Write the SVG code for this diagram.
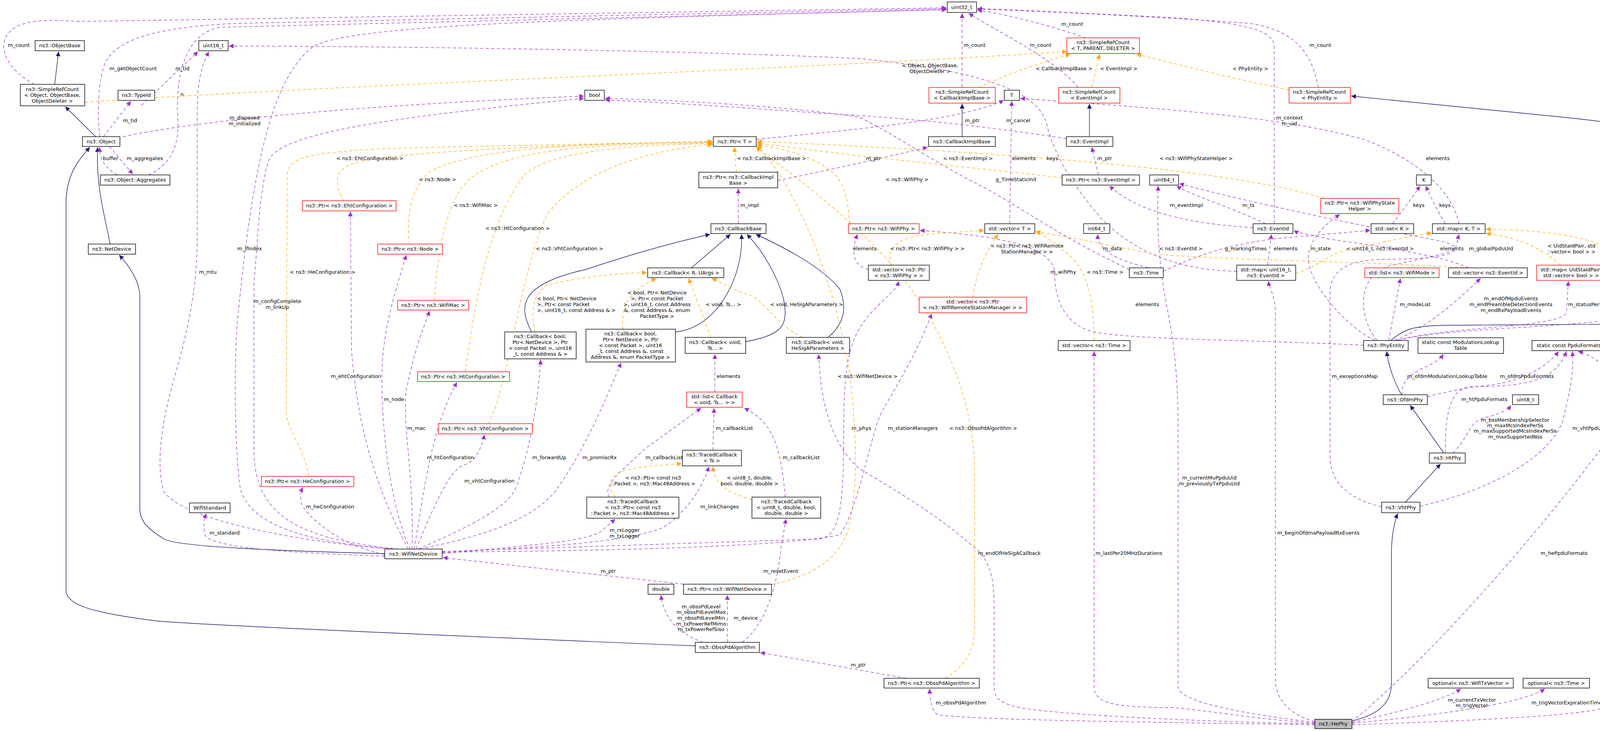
<svg xmlns="http://www.w3.org/2000/svg" width="4365" height="1872" viewBox="0 0 4365 1872">
<style>
text{font-family:"DejaVu Sans","Liberation Sans",sans-serif;font-size:13px;fill:#000}
.n rect{fill:#fff;stroke:#000;stroke-width:1.4}
.r rect{fill:#fff;stroke:#f00;stroke-width:1.4}
.g rect{fill:#bfbfbf;stroke:#000;stroke-width:1.4}
.n text,.r text,.g text{text-anchor:middle}
.lb text{text-anchor:middle}
.b{fill:none;stroke:#191970;stroke-width:1.4;marker-end:url(#mb)}
.p{fill:none;stroke:#9a32cd;stroke-width:1.3;stroke-dasharray:8,6;marker-end:url(#mp)}
.o{fill:none;stroke:#ffa500;stroke-width:1.3;stroke-dasharray:8,6;marker-end:url(#mo)}
</style>
<defs>
<marker id="mb" viewBox="0 0 10 10" refX="10" refY="5" markerWidth="12" markerHeight="12" markerUnits="userSpaceOnUse" orient="auto"><path d="M0,0 L10,5 L0,10 z" fill="#191970"/></marker>
<marker id="mp" viewBox="0 0 10 10" refX="10" refY="5" markerWidth="12" markerHeight="12" markerUnits="userSpaceOnUse" orient="auto"><path d="M0,0 L10,5 L0,10 z" fill="#9a32cd"/></marker>
<marker id="mo" viewBox="0 0 10 10" refX="10" refY="5" markerWidth="12" markerHeight="12" markerUnits="userSpaceOnUse" orient="auto"><path d="M0,0 L10,5 L0,10 z" fill="#ffa500"/></marker>
</defs>
<rect width="4365" height="1872" fill="#fff"/>
<g id="connectors">
<path class="b" d="M140,216 L150,132"/>
<path class="b" d="M245,350 L167,273"/>
<path class="b" d="M282,625 C270,560 245,480 250,377"/>
<path class="b" d="M985,1418 C700,1410 450,1400 420,1380 C370,1350 358,1330 358,1300 L358,760 C358,720 330,680 305,653"/>
<path class="b" d="M1780,1654 C1200,1630 500,1600 400,1590 C240,1570 169,1550 169,1511 L169,520 C169,450 200,410 230,377"/>
<path class="b" d="M2463,350 L2463,266"/>
<path class="b" d="M2789,350 L2789,266"/>
<path class="b" d="M1770,686 L1870,600"/>
<path class="b" d="M1361,850 C1330,790 1320,730 1500,690 C1650,640 1750,615 1818,600"/>
<path class="b" d="M1729,850 C1840,840 1905,700 1898,600"/>
<path class="b" d="M1909,875 C1990,860 2010,840 2010,800 C2010,740 1960,650 1912,600"/>
<path class="b" d="M2120,864 C2160,830 2170,790 2150,740 C2100,680 2000,630 1935,600"/>
<path class="b" d="M3598,1286 L3688,1188"/>
<path class="b" d="M3696,1160 L3610,1038"/>
<path class="b" d="M3588,1011 C3570,980 3555,940 3550,900"/>
<path class="b" d="M3560,872 C3600,840 3620,835 3700,833 L4320,829 C4350,826 4358,810 4358,780 L4358,420 C4358,370 4300,330 4000,300 C3800,280 3600,260 3459,246"/>
<path class="b" d="M3462,1846 C3530,1830 3562,1800 3562,1750 L3562,1420 C3562,1380 3568,1340 3578,1315"/>

<path class="p" d="M88,216 C40,190 5,150 10,110 C20,60 80,45 200,55 L2423,20"/>
<path class="p" d="M255,350 C250,300 250,200 270,160 C300,100 400,70 600,60 L2423,22"/>
<path class="p" d="M362,270 L507,132"/>
<path class="p" d="M265,350 L335,259"/>
<path class="p" d="M380,448 C440,420 460,370 455,300 C450,200 470,90 560,70 L2423,25"/>
<path class="p" d="M280,375 L340,446"/>
<path class="p" d="M300,448 C270,430 255,410 255,377"/>
<path class="p" d="M315,350 C500,310 900,270 1495,246"/>
<path class="p" d="M1000,1406 C800,1390 480,1340 420,1260 C400,1200 410,1100 440,990 C480,850 505,750 505,600 L505,280 C505,200 520,160 535,132"/>
<path class="p" d="M1010,1406 C800,1390 640,1350 615,1250 C600,1150 598,900 610,800 C650,400 700,200 800,120 C900,60 1500,50 2423,24"/>
<path class="p" d="M1020,1406 C760,1380 650,1320 650,1150 L650,720 C660,640 660,500 688,410 C720,340 1000,300 1495,252"/>
<path class="p" d="M1045,1406 C990,1300 920,1150 900,900 L897,542"/>
<path class="p" d="M1050,1406 C1000,1300 975,1100 978,950 C980,850 1010,750 1040,653"/>
<path class="p" d="M1055,1406 C1060,1200 1030,1100 1040,1000 C1060,900 1080,850 1100,796"/>
<path class="p" d="M1060,1406 C1080,1300 1100,1100 1170,979"/>
<path class="p" d="M1065,1406 C1110,1300 1150,1200 1190,1190 C1220,1180 1235,1140 1240,1113"/>
<path class="p" d="M985,1420 C880,1400 790,1330 772,1290 C768,1270 770,1260 775,1248"/>
<path class="p" d="M985,1424 C700,1415 540,1400 525,1370 C520,1350 522,1330 528,1315"/>
<path class="p" d="M1070,1406 C1200,1350 1300,1300 1320,1250 C1360,1150 1380,1000 1384,921"/>
<path class="p" d="M1075,1406 C1250,1370 1360,1330 1420,1260 C1500,1150 1560,1000 1590,929"/>
<path class="p" d="M1132,1418 C1300,1400 1500,1390 1540,1360 L1575,1329"/>
<path class="p" d="M1132,1415 C1400,1400 1600,1390 1700,1350 C1770,1300 1800,1240 1815,1195"/>
<path class="p" d="M1132,1412 C1500,1400 1800,1390 2100,1380 C2150,1370 2160,1300 2160,1100 C2160,900 2180,850 2250,780 C2280,750 2295,740 2301,720"/>
<path class="p" d="M1132,1414 C1600,1410 2000,1400 2150,1370 C2200,1300 2230,1100 2260,1050 C2300,980 2350,900 2385,803"/>
<path class="p" d="M1750,1496 L1134,1428"/>
<path class="p" d="M1800,1645 C1730,1620 1700,1580 1692,1524"/>
<path class="p" d="M1862,1645 L1862,1524"/>
<path class="p" d="M1900,1645 C1960,1600 1990,1500 2000,1400 L2012,1329"/>
<path class="p" d="M2320,1737 L1946,1671"/>
<path class="p" d="M3366,1856 C3000,1850 2500,1845 2400,1830 C2385,1820 2380,1790 2380,1764"/>
<path class="p" d="M3366,1854 C3000,1845 2700,1830 2600,1810 C2545,1795 2545,1780 2545,1750 L2545,1550 C2545,1450 2520,1420 2480,1390 C2400,1320 2300,1260 2200,1200 C2140,1150 2100,1050 2096,907"/>
<path class="p" d="M3366,1852 C3200,1840 3100,1820 3000,1812 C2850,1812 2801,1800 2801,1760 L2801,900"/>
<path class="p" d="M3366,1850 C3200,1830 3020,1800 3016,1760 L3016,1100 C3016,1000 3010,900 2990,800 C2970,700 2960,600 2965,476"/>
<path class="p" d="M3366,1848 C3300,1830 3265,1790 3265,1740 L3265,800 C3265,760 3250,740 3247,720"/>
<path class="p" d="M3461,1850 C3600,1820 3700,1790 3740,1764"/>
<path class="p" d="M3461,1852 C3700,1830 3900,1800 3955,1764"/>
<path class="p" d="M3461,1856 C3800,1845 4080,1830 4110,1810 C4140,1790 4150,1775 4158,1764"/>
<path class="p" d="M3461,1848 C3700,1650 3990,1300 4135,1100 C4160,1040 4150,980 4110,940 C4080,915 4060,905 4040,900"/>
<path class="p" d="M3635,1296 C3800,1260 3960,1180 4000,1080 C4020,1000 4030,950 4025,900"/>
<path class="p" d="M3700,1160 C3700,1100 3700,1000 3760,990 C3900,990 3980,980 4010,900"/>
<path class="p" d="M3720,1160 C3760,1120 3760,1080 3800,1070 C3840,1060 3860,1050 3868,1038"/>
<path class="p" d="M3654,1016 C3750,990 3800,990 3850,980 C3900,970 3960,940 3990,900"/>
<path class="p" d="M3590,1011 C3585,990 3600,960 3650,940 C3680,925 3690,915 3695,907"/>
<path class="p" d="M3537,1298 C3460,1280 3405,1240 3405,1170 L3405,750 C3405,700 3440,670 3520,665 C3600,662 3700,665 3725,640 L3735,600"/>
<path class="p" d="M3525,872 C3470,800 3480,700 3560,680 C3700,650 3760,640 3700,620 C3500,580 3200,520 3019,470"/>
<path class="p" d="M3555,872 L3585,713"/>
<path class="p" d="M3570,872 C3650,840 3720,780 3790,713"/>
<path class="p" d="M3575,872 C3700,835 4000,840 4010,800 L4015,720"/>
<path class="p" d="M3580,872 C3700,835 4150,840 4180,800 L4210,720"/>
<path class="p" d="M3520,872 C3450,840 3340,720 3350,650 C3360,600 3400,570 3430,549"/>
<path class="p" d="M3491,884 C3200,870 2900,870 2800,850 C2720,830 2700,760 2700,700 C2700,620 2500,600 2355,590"/>
<path class="p" d="M3208,583 C3000,570 2900,530 2840,476"/>
<path class="p" d="M3240,573 C3150,530 3050,500 3012,476"/>
<path class="p" d="M3262,573 L3262,120 C3262,80 3200,60 3000,45 C2800,35 2600,25 2502,22"/>
<path class="p" d="M2940,686 C2880,670 2810,650 2810,600"/>
<path class="p" d="M2891,690 C2700,600 2600,520 2500,470 C2400,420 2300,350 2200,300 C2000,270 1700,255 1549,252"/>
<path class="p" d="M2978,695 C3050,660 3150,620 3300,608 C3400,600 3480,592 3508,590"/>
<path class="p" d="M3735,573 C3720,500 3650,420 3500,360 C3300,300 3000,280 2612,252"/>
<path class="p" d="M3700,573 C3680,540 3660,500 3650,476"/>
<path class="p" d="M3565,573 C3590,540 3620,500 3635,476"/>
<path class="p" d="M2812,448 L2795,377"/>
<path class="p" d="M2463,224 L2463,34"/>
<path class="p" d="M2760,224 C2700,150 2550,80 2480,34"/>
<path class="p" d="M2780,97 C2700,70 2600,40 2502,26"/>
<path class="p" d="M3375,224 C3360,150 3330,80 3200,60 C3000,45 2700,30 2502,23"/>
<path class="p" d="M1991,462 C2150,430 2300,395 2375,377"/>
<path class="p" d="M1890,573 L1890,483"/>
<path class="p" d="M1936,357 C2200,330 2450,310 2570,257"/>
<path class="p" d="M2730,355 C2500,320 2300,300 2100,290 C1900,275 1700,262 1549,256"/>
<path class="p" d="M2585,573 L2590,259"/>
<path class="p" d="M1830,1004 L1830,907"/>
<path class="p" d="M1825,1153 L1828,1045"/>
<path class="p" d="M1560,1273 C1540,1240 1600,1200 1650,1150 C1720,1100 1760,1070 1795,1045"/>
<path class="p" d="M2010,1273 C2000,1150 1980,1080 1905,1045"/>
<path class="p" d="M2223,690 C2180,680 2180,640 2195,600"/>
<path class="p" d="M3245,679 L3255,600"/>
<path class="p" d="M3760,686 C3700,660 3600,640 3400,612 C3350,600 3320,595 3312,590"/>
<path class="p" d="M3166,695 C3000,690 2900,640 2820,560 C2750,480 2700,400 2680,320 C2660,230 2500,180 2200,150 C1800,130 1000,118 586,118"/>

<path class="o" d="M217,262 C800,220 2000,180 2731,132"/>
<path class="o" d="M2505,224 C2600,180 2700,150 2740,139"/>
<path class="o" d="M2795,224 L2815,139"/>
<path class="o" d="M3300,230 C3100,190 3000,160 2910,139"/>
<path class="o" d="M880,514 C860,480 850,440 900,420 C1000,385 1500,370 1824,362"/>
<path class="o" d="M1048,625 C1040,560 1050,480 1100,440 C1200,380 1500,365 1824,364"/>
<path class="o" d="M1112,769 C1120,650 1140,520 1200,460 C1300,380 1500,370 1824,366"/>
<path class="o" d="M1190,952 C1210,850 1230,600 1340,450 C1400,390 1600,370 1824,368"/>
<path class="o" d="M1250,1085 C1300,1000 1330,700 1400,550 C1500,420 1700,380 1824,370"/>
<path class="o" d="M790,1220 C780,1150 735,1100 733,1060 L735,450 C735,400 800,390 1000,380 C1400,370 1700,365 1824,364"/>
<path class="o" d="M1885,441 L1880,377"/>
<path class="o" d="M2175,573 C2170,500 2160,450 2100,420 C2050,390 1990,380 1938,370"/>
<path class="o" d="M2719,455 C2400,420 2100,390 1938,366"/>
<path class="o" d="M3390,508 C3200,450 2800,400 1938,362"/>
<path class="o" d="M1975,1497 C2100,1470 2150,1420 2170,1360 C2200,1250 2190,1100 2180,1000 C2160,800 2060,500 1938,372"/>
<path class="o" d="M2420,1737 C2480,1700 2495,1660 2495,1600 L2495,1200 C2490,1050 2450,950 2400,850 C2300,650 2100,500 1935,377"/>
<path class="o" d="M1370,850 C1360,800 1360,760 1400,730 C1500,705 1600,700 1656,698"/>
<path class="o" d="M1595,843 C1590,790 1600,750 1680,713"/>
<path class="o" d="M1820,864 L1763,713"/>
<path class="o" d="M2055,864 C2000,840 1960,780 1930,760 C1870,740 1840,720 1822,713"/>
<path class="o" d="M1575,1273 C1550,1240 1560,1210 1620,1200 C1680,1190 1720,1190 1745,1187"/>
<path class="o" d="M1925,1280 C1860,1260 1830,1240 1825,1195"/>
<path class="o" d="M2280,679 C2270,630 2300,605 2400,598 L2519,590"/>
<path class="o" d="M2490,761 C2500,700 2520,650 2555,600"/>
<path class="o" d="M2801,872 C2800,750 2780,680 2720,640 C2690,615 2670,600 2651,592"/>
<path class="o" d="M3760,686 C3500,670 3100,665 2950,650 C2800,620 2700,600 2651,594"/>
<path class="o" d="M3317,700 C3380,680 3400,650 3450,640 C3550,620 3620,600 3665,597"/>
<path class="o" d="M3995,679 C3950,640 3900,610 3804,598"/>
<path class="o" d="M4190,679 C4100,600 3950,590 3804,587"/>

<g class="lb">
<text x="48" y="120">m_count</text>
<text x="341" y="180">m_getObjectCount</text>
<text x="467" y="180">m_tid</text>
<text x="466" y="246">n</text>
<text x="333" y="313">m_tid</text>
<text x="626" y="306">m_disposed</text><text x="626" y="321">m_initialized</text>
<text x="283" y="410">buffer</text>
<text x="371" y="410">m_aggregates</text>
<text x="947" y="410">&lt; ns3::EhtConfiguration &gt;</text>
<text x="639" y="641">m_ifIndex</text>
<text x="532" y="701">m_mtu</text>
<text x="826" y="701">&lt; ns3::HeConfiguration &gt;</text>
<text x="710" y="776">m_configComplete</text><text x="710" y="791">m_linkUp</text>
<text x="1120" y="464">&lt; ns3::Node &gt;</text>
<text x="1218" y="530">&lt; ns3::WifiMac &gt;</text>
<text x="1325" y="589">&lt; ns3::HtConfiguration &gt;</text>
<text x="1458" y="641">&lt; ns3::VhtConfiguration &gt;</text>
<text x="1975" y="410">&lt; ns3::CallbackImplBase &gt;</text>
<text x="1919" y="530">m_impl</text>
<text x="1375" y="769" style="text-anchor:start">&lt; bool, Ptr&lt; NetDevice</text>
<text x="1375" y="784" style="text-anchor:start">&gt;, Ptr&lt; const Packet</text>
<text x="1375" y="799" style="text-anchor:start">&gt;, uint16_t, const Address &amp; &gt;</text>
<text x="1682" y="754">&lt; bool, Ptr&lt; NetDevice</text>
<text x="1682" y="769">&gt;, Ptr&lt; const Packet</text>
<text x="1682" y="784">&gt;, uint16_t, const Address</text>
<text x="1682" y="799">&amp;, const Address &amp;, enum</text>
<text x="1682" y="814">PacketType &gt;</text>
<text x="1852" y="784">&lt; void, Ts... &gt;</text>
<text x="2065" y="784">&lt; void, HeSigAParameters &gt;</text>
<text x="2495" y="120">m_count</text>
<text x="2664" y="120">m_count</text>
<text x="2745" y="66">m_count</text>
<text x="2381" y="172">&lt; Object, ObjectBase,</text><text x="2381" y="187">ObjectDeleter &gt;</text>
<text x="2724" y="180">&lt; CallbackImplBase &gt;</text>
<text x="2864" y="180">&lt; EventImpl &gt;</text>
<text x="3201" y="180">&lt; PhyEntity &gt;</text>
<text x="2489" y="313">m_ptr</text>
<text x="2607" y="313">m_cancel</text>
<text x="2236" y="410">m_ptr</text>
<text x="2478" y="410">&lt; ns3::EventImpl &gt;</text>
<text x="2621" y="410">elements</text>
<text x="2694" y="410">keys</text>
<text x="2828" y="410">m_ptr</text>
<text x="3062" y="410">&lt; ns3::WifiPhyStateHelper &gt;</text>
<text x="2322" y="464">&lt; ns3::WifiPhy &gt;</text>
<text x="2601" y="464">g_TimeStaticInit</text>
<text x="3037" y="530">m_eventImpl</text>
<text x="3196" y="530">m_ts</text>
<text x="2214" y="641">elements</text>
<text x="2374" y="641">&lt; ns3::Ptr&lt; ns3::WifiPhy &gt; &gt;</text>
<text x="2629" y="634">&lt; ns3::Ptr&lt; ns3::WifiRemote</text><text x="2629" y="649">StationManager &gt; &gt;</text>
<text x="2848" y="641">m_data</text>
<text x="3023" y="641">&lt; ns3::EventId &gt;</text>
<text x="3189" y="641">g_markingTimes</text>
<text x="2722" y="701">m_wifiPhy</text>
<text x="2829" y="701">&lt; ns3::Time &gt;</text>
<text x="2937" y="784">elements</text>
<text x="3380" y="120">m_count</text>
<text x="3301" y="306">m_context</text><text x="3301" y="321">m_uid</text>
<text x="3681" y="410">elements</text>
<text x="3632" y="530">keys</text>
<text x="3699" y="530">keys</text>
<text x="3291" y="641">elements</text>
<text x="3381" y="641">m_state</text>
<text x="3533" y="641">&lt; uint16_t, ns3::EventId &gt;</text>
<text x="3717" y="641">elements</text>
<text x="3817" y="641">m_globalPpduUid</text>
<text x="4023" y="634">&lt; UidStaIdPair, std</text><text x="4023" y="649">::vector&lt; bool &gt; &gt;</text>
<text x="4222" y="634">&lt; UidStaIdPair, ns3</text><text x="4222" y="649">::SignalNoiseDbm &gt;</text>
<text x="3623" y="784">m_modeList</text>
<text x="3868" y="769">m_endOfMpduEvents</text><text x="3868" y="784">m_endPreambleDetectionEvents</text><text x="3868" y="799">m_endRxPayloadEvents</text>
<text x="4086" y="784">m_statusPerMpduMap</text>
<text x="4270" y="784">m_signalNoiseMap</text>
<text x="911" y="968">m_ehtConfiguration</text>
<text x="1009" y="1027">m_node</text>
<text x="1066" y="1101">m_mac</text>
<text x="845" y="1302">m_heConfiguration</text>
<text x="575" y="1369">m_standard</text>
<text x="1865" y="968">elements</text>
<text x="1880" y="1101">m_callbackList</text>
<text x="1153" y="1176">m_htConfiguration</text>
<text x="1406" y="1176">m_forwardUp</text>
<text x="1535" y="1176">m_promiscRx</text>
<text x="1700" y="1176">m_callbackList</text>
<text x="2051" y="1176">m_callbackList</text>
<text x="1253" y="1236">m_vhtConfiguration</text>
<text x="1672" y="1228">&lt; ns3::Ptr&lt; const ns3</text><text x="1672" y="1243">::Packet &gt;, ns3::Mac48Address &gt;</text>
<text x="1919" y="1228">&lt; uint8_t, double,</text><text x="1919" y="1243">bool, double, double &gt;</text>
<text x="1842" y="1302">m_linkChanges</text>
<text x="1599" y="1362">m_rxLogger</text><text x="1599" y="1377">m_txLogger</text>
<text x="1557" y="1467">m_ptr</text>
<text x="1999" y="1467">m_resetEvent</text>
<text x="1795" y="1558">m_obssPdLevel</text><text x="1795" y="1572">m_obssPdLevelMax</text><text x="1795" y="1587">m_obssPdLevelMin</text><text x="1795" y="1602">m_txPowerRefMimo</text><text x="1795" y="1616">m_txPowerRefSiso</text>
<text x="1909" y="1587">m_device</text>
<text x="2221" y="968">&lt; ns3::WifiNetDevice &gt;</text>
<text x="2205" y="1101">m_phys</text>
<text x="2337" y="1101">m_stationManagers</text>
<text x="2517" y="1101">&lt; ns3::ObssPdAlgorithm &gt;</text>
<text x="2584" y="1421">m_endOfHeSigACallback</text>
<text x="2890" y="1421">m_lastPer20MHzDurations</text>
<text x="3096" y="1228">m_currentMuPpduUid</text><text x="3096" y="1243">m_previouslyTxPpduUid</text>
<text x="2197" y="1707">m_ptr</text>
<text x="2460" y="1804">m_obssPdAlgorithm</text>
<text x="3468" y="968">m_exceptionsMap</text>
<text x="3705" y="968">m_ofdmModulationLookupTable</text>
<text x="3909" y="968">m_ofdmPpduFormats</text>
<text x="3800" y="1027">m_htPpduFormats</text>
<text x="3879" y="1080">m_bssMembershipSelector</text><text x="3879" y="1094">m_maxMcsIndexPerSs</text><text x="3879" y="1108">m_maxSupportedMcsIndexPerSs</text><text x="3879" y="1123">m_maxSupportedNss</text>
<text x="4088" y="1101">m_vhtPpduFormats</text>
<text x="3375" y="1369">m_beginOfdmaPayloadRxEvents</text>
<text x="4004" y="1421">m_hePpduFormats</text>
<text x="3768" y="1797">m_currentTxVector</text><text x="3768" y="1811">m_trigVector</text>
<text x="4011" y="1804">m_trigVectorExpirationTime</text>
<text x="4200" y="1804">m_rxHeTbPpdus</text>
</g>
</g>

<g id="n1" class="n"><rect x="2425" y="5" width="75" height="27"/><text x="2462" y="23">uint32_t</text></g>
<g id="n2" class="n"><rect x="509" y="104" width="75" height="26"/><text x="546" y="121">uint16_t</text></g>
<g id="n3" class="n"><rect x="90" y="104" width="126" height="26"/><text x="153" y="121">ns3::ObjectBase</text></g>
<g id="n4" class="n"><rect x="52" y="216" width="165" height="55"/><text x="134" y="233">ns3::SimpleRefCount</text><text x="134" y="248">&lt; Object, ObjectBase,</text><text x="134" y="263">ObjectDeleter &gt;</text></g>
<g id="n5" class="n"><rect x="302" y="231" width="94" height="26"/><text x="349" y="248">ns3::TypeId</text></g>
<g id="n6" class="n"><rect x="211" y="350" width="96" height="25"/><text x="259" y="367">ns3::Object</text></g>
<g id="n7" class="n"><rect x="257" y="448" width="178" height="26"/><text x="346" y="465">ns3::Object::Aggregates</text></g>
<g id="n8" class="n"><rect x="226" y="625" width="121" height="26"/><text x="286" y="642">ns3::NetDevice</text></g>
<g id="n9" class="n"><rect x="1497" y="231" width="50" height="26"/><text x="1522" y="248">bool</text></g>
<g id="n10" class="r"><rect x="774" y="514" width="240" height="26"/><text x="894" y="531">ns3::Ptr&lt; ns3::EhtConfiguration &gt;</text></g>
<g id="n11" class="r"><rect x="967" y="625" width="166" height="26"/><text x="1050" y="642">ns3::Ptr&lt; ns3::Node &gt;</text></g>
<g id="n12" class="r"><rect x="1018" y="769" width="182" height="25"/><text x="1109" y="786">ns3::Ptr&lt; ns3::WifiMac &gt;</text></g>
<g id="n13" class="r"><rect x="1069" y="952" width="235" height="25"/><text x="1186" y="969">ns3::Ptr&lt; ns3::HtConfiguration &gt;</text></g>
<g id="n14" class="r"><rect x="1122" y="1085" width="241" height="26"/><text x="1242" y="1102">ns3::Ptr&lt; ns3::VhtConfiguration &gt;</text></g>
<g id="n15" class="r"><rect x="669" y="1220" width="237" height="26"/><text x="787" y="1237">ns3::Ptr&lt; ns3::HeConfiguration &gt;</text></g>
<g id="n16" class="n"><rect x="485" y="1288" width="104" height="25"/><text x="537" y="1305">WifiStandard</text></g>
<g id="n17" class="n"><rect x="985" y="1406" width="147" height="25"/><text x="1058" y="1423">ns3::WifiNetDevice</text></g>
<g id="n18" class="n"><rect x="1826" y="350" width="110" height="25"/><text x="1881" y="367">ns3::Ptr&lt; T &gt;</text></g>
<g id="n19" class="n"><rect x="1789" y="441" width="202" height="40"/><text x="1890" y="458">ns3::Ptr&lt; ns3::CallbackImpl</text><text x="1890" y="473">Base &gt;</text></g>
<g id="n20" class="n"><rect x="1820" y="573" width="141" height="25"/><text x="1890" y="590">ns3::CallbackBase</text></g>
<g id="n21" class="n"><rect x="1658" y="686" width="195" height="25"/><text x="1755" y="703">ns3::Callback&lt; R, UArgs &gt;</text></g>
<g id="n22" class="n"><rect x="1292" y="850" width="183" height="69"/><text x="1383" y="866">ns3::Callback&lt; bool,</text><text x="1383" y="881">Ptr&lt; NetDevice &gt;, Ptr</text><text x="1383" y="896">&lt; const Packet &gt;, uint16</text><text x="1383" y="911">_t, const Address &amp; &gt;</text></g>
<g id="n23" class="n"><rect x="1500" y="843" width="229" height="84"/><text x="1614" y="859">ns3::Callback&lt; bool,</text><text x="1614" y="874">Ptr&lt; NetDevice &gt;, Ptr</text><text x="1614" y="889">&lt; const Packet &gt;, uint16</text><text x="1614" y="904">_t, const Address &amp;, const</text><text x="1614" y="919">Address &amp;, enum PacketType &gt;</text></g>
<g id="n24" class="n"><rect x="1754" y="864" width="155" height="41"/><text x="1831" y="881">ns3::Callback&lt; void,</text><text x="1831" y="896">Ts... &gt;</text></g>
<g id="n25" class="n"><rect x="2013" y="864" width="162" height="41"/><text x="2094" y="881">ns3::Callback&lt; void,</text><text x="2094" y="896">HeSigAParameters &gt;</text></g>
<g id="n26" class="r"><rect x="1758" y="1004" width="142" height="39"/><text x="1829" y="1020">std::list&lt; Callback</text><text x="1829" y="1035">&lt; void, Ts... &gt; &gt;</text></g>
<g id="n27" class="n"><rect x="1747" y="1153" width="151" height="40"/><text x="1822" y="1169">ns3::TracedCallback</text><text x="1822" y="1184">&lt; Ts &gt;</text></g>
<g id="n28" class="n"><rect x="1502" y="1273" width="236" height="54"/><text x="1620" y="1289">ns3::TracedCallback</text><text x="1620" y="1304">&lt; ns3::Ptr&lt; const ns3</text><text x="1620" y="1319">::Packet &gt;, ns3::Mac48Address &gt;</text></g>
<g id="n29" class="n"><rect x="1925" y="1273" width="176" height="54"/><text x="2013" y="1289">ns3::TracedCallback</text><text x="2013" y="1304">&lt; uint8_t, double, bool,</text><text x="2013" y="1319">double, double &gt;</text></g>
<g id="n30" class="n"><rect x="1659" y="1496" width="66" height="26"/><text x="1692" y="1513">double</text></g>
<g id="n31" class="n"><rect x="1750" y="1496" width="225" height="26"/><text x="1862" y="1513">ns3::Ptr&lt; ns3::WifiNetDevice &gt;</text></g>
<g id="n32" class="n"><rect x="1780" y="1645" width="164" height="26"/><text x="1862" y="1662">ns3::ObssPdAlgorithm</text></g>
<g id="n33" class="n"><rect x="2263" y="1737" width="244" height="25"/><text x="2385" y="1754">ns3::Ptr&lt; ns3::ObssPdAlgorithm &gt;</text></g>
<g id="n34" class="r"><rect x="2731" y="97" width="186" height="40"/><text x="2824" y="113">ns3::SimpleRefCount</text><text x="2824" y="128">&lt; T, PARENT, DELETER &gt;</text></g>
<g id="n35" class="r"><rect x="2378" y="224" width="170" height="40"/><text x="2463" y="240">ns3::SimpleRefCount</text><text x="2463" y="255">&lt; CallbackImplBase &gt;</text></g>
<g id="n36" class="n"><rect x="2571" y="231" width="39" height="26"/><text x="2590" y="248">T</text></g>
<g id="n37" class="r"><rect x="2710" y="224" width="157" height="40"/><text x="2788" y="240">ns3::SimpleRefCount</text><text x="2788" y="255">&lt; EventImpl &gt;</text></g>
<g id="n38" class="n"><rect x="2377" y="350" width="171" height="25"/><text x="2462" y="367">ns3::CallbackImplBase</text></g>
<g id="n39" class="n"><rect x="2730" y="350" width="119" height="25"/><text x="2789" y="367">ns3::EventImpl</text></g>
<g id="n40" class="n"><rect x="2719" y="448" width="198" height="26"/><text x="2818" y="465">ns3::Ptr&lt; ns3::EventImpl &gt;</text></g>
<g id="n41" class="n"><rect x="2943" y="448" width="74" height="26"/><text x="2980" y="465">uint64_t</text></g>
<g id="n42" class="r"><rect x="2172" y="573" width="181" height="25"/><text x="2262" y="590">ns3::Ptr&lt; ns3::WifiPhy &gt;</text></g>
<g id="n43" class="n"><rect x="2521" y="573" width="128" height="25"/><text x="2585" y="590">std::vector&lt; T &gt;</text></g>
<g id="n44" class="n"><rect x="2774" y="573" width="67" height="25"/><text x="2807" y="590">int64_t</text></g>
<g id="n45" class="n"><rect x="3208" y="573" width="102" height="25"/><text x="3259" y="590">ns3::EventId</text></g>
<g id="n46" class="n"><rect x="2223" y="679" width="156" height="39"/><text x="2301" y="695">std::vector&lt; ns3::Ptr</text><text x="2301" y="710">&lt; ns3::WifiPhy &gt; &gt;</text></g>
<g id="n47" class="r"><rect x="2353" y="761" width="275" height="40"/><text x="2490" y="777">std::vector&lt; ns3::Ptr</text><text x="2490" y="792">&lt; ns3::WifiRemoteStationManager &gt; &gt;</text></g>
<g id="n48" class="n"><rect x="2891" y="686" width="87" height="25"/><text x="2934" y="703">ns3::Time</text></g>
<g id="n49" class="n"><rect x="3166" y="679" width="151" height="39"/><text x="3241" y="695">std::map&lt; uint16_t,</text><text x="3241" y="710">ns3::EventId &gt;</text></g>
<g id="n50" class="n"><rect x="2709" y="872" width="184" height="26"/><text x="2801" y="889">std::vector&lt; ns3::Time &gt;</text></g>
<g id="n51" class="r"><rect x="3300" y="224" width="157" height="40"/><text x="3378" y="240">ns3::SimpleRefCount</text><text x="3378" y="255">&lt; PhyEntity &gt;</text></g>
<g id="n52" class="n"><rect x="3626" y="448" width="38" height="26"/><text x="3645" y="465">K</text></g>
<g id="n53" class="r"><rect x="3381" y="508" width="200" height="39"/><text x="3481" y="524">ns3::Ptr&lt; ns3::WifiPhyState</text><text x="3481" y="539">Helper &gt;</text></g>
<g id="n54" class="n"><rect x="3510" y="573" width="109" height="25"/><text x="3564" y="590">std::set&lt; K &gt;</text></g>
<g id="n55" class="n"><rect x="3667" y="573" width="135" height="25"/><text x="3734" y="590">std::map&lt; K, T &gt;</text></g>
<g id="n56" class="r"><rect x="3494" y="686" width="190" height="25"/><text x="3589" y="703">std::list&lt; ns3::WifiMode &gt;</text></g>
<g id="n57" class="n"><rect x="3708" y="686" width="202" height="25"/><text x="3809" y="703">std::vector&lt; ns3::EventId &gt;</text></g>
<g id="n58" class="r"><rect x="3934" y="679" width="177" height="39"/><text x="4022" y="695">std::map&lt; UidStaIdPair,</text><text x="4022" y="710">std::vector&lt; bool &gt; &gt;</text></g>
<g id="n59" class="r"><rect x="4135" y="679" width="180" height="39"/><text x="4225" y="695">std::map&lt; UidStaIdPair,</text><text x="4225" y="710">ns3::SignalNoiseDbm &gt;</text></g>
<g id="n60" class="n"><rect x="3491" y="872" width="114" height="26"/><text x="3548" y="889">ns3::PhyEntity</text></g>
<g id="n61" class="n"><rect x="3630" y="865" width="219" height="40"/><text x="3739" y="881">static const ModulationLookup</text><text x="3739" y="896">Table</text></g>
<g id="n62" class="n"><rect x="3922" y="872" width="188" height="26"/><text x="4016" y="889">static const PpduFormats</text></g>
<g id="n63" class="n"><rect x="3541" y="1011" width="113" height="25"/><text x="3597" y="1028">ns3::OfdmPhy</text></g>
<g id="n64" class="n"><rect x="3872" y="1011" width="67" height="25"/><text x="3905" y="1028">uint8_t</text></g>
<g id="n65" class="n"><rect x="3659" y="1160" width="92" height="26"/><text x="3705" y="1177">ns3::HtPhy</text></g>
<g id="n66" class="n"><rect x="3537" y="1286" width="98" height="27"/><text x="3586" y="1304">ns3::VhtPhy</text></g>
<g id="n67" class="n"><rect x="3656" y="1737" width="218" height="25"/><text x="3765" y="1754">optional&lt; ns3::WifiTxVector &gt;</text></g>
<g id="n68" class="n"><rect x="3899" y="1737" width="170" height="25"/><text x="3984" y="1754">optional&lt; ns3::Time &gt;</text></g>
<g id="n69" class="n"><rect x="4140" y="1737" width="61" height="25"/><text x="4170" y="1754">size_t</text></g>
<g id="n70" class="g"><rect x="3366" y="1842" width="95" height="24"/><text x="3413" y="1858">ns3::HePhy</text></g>
</svg>
